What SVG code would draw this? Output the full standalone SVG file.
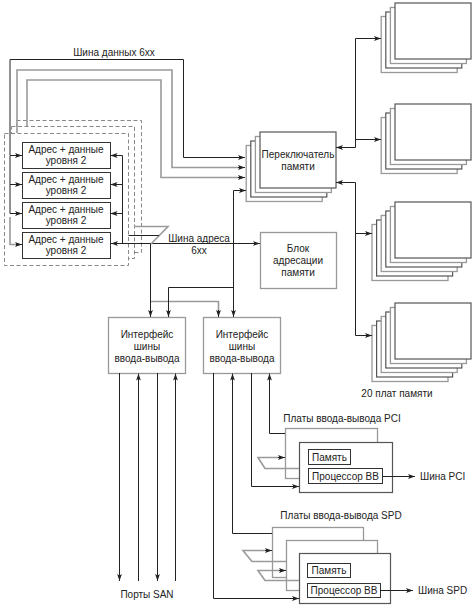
<svg xmlns="http://www.w3.org/2000/svg" width="474" height="608" viewBox="0 0 474 608">
<style>
.t{font-family:"Liberation Sans",Arial,sans-serif;font-size:10px;fill:#222;text-anchor:middle}
.s{text-anchor:start}
.ln{fill:none;stroke:#222;stroke-width:1}
.gl{fill:none;stroke:#9a9a9a;stroke-width:1.6}
.bx{fill:#fff;stroke:#333;stroke-width:1}
.dk{fill:#fff;stroke:#555;stroke-width:1.2}
.gb{fill:#fff;stroke:#999;stroke-width:1.3}
.ds{fill:#fff;stroke:#888;stroke-width:1;stroke-dasharray:4,2.5}
</style>
<defs>
<marker id="a" markerWidth="7" markerHeight="6" refX="7" refY="3" orient="auto" markerUnits="userSpaceOnUse"><path d="M0,0.6 L7,3 L0,5.4 L1.6,3 z" fill="#222"/></marker>
</defs>
<rect width="474" height="608" fill="#fff"/>

<g id="l2stack">
<rect class="ds" x="16.5" y="120.5" width="125" height="132"/>
<rect class="ds" x="11.5" y="126.5" width="123" height="132"/>
<rect class="ds" x="4.5" y="133.5" width="124" height="132"/>
</g>
<g id="l2-1"><rect class="bx" x="22.5" y="142.5" width="88" height="26"/><text class="t" x="66" y="153">Адрес + данные</text><text class="t" x="66" y="164">уровня 2</text></g>
<g id="l2-2"><rect class="bx" x="22.5" y="172.5" width="88" height="26"/><text class="t" x="66" y="183">Адрес + данные</text><text class="t" x="66" y="194">уровня 2</text></g>
<g id="l2-3"><rect class="bx" x="22.5" y="202.5" width="88" height="26"/><text class="t" x="66" y="213">Адрес + данные</text><text class="t" x="66" y="224">уровня 2</text></g>
<g id="l2-4"><rect class="bx" x="22.5" y="232.5" width="88" height="26"/><text class="t" x="66" y="243">Адрес + данные</text><text class="t" x="66" y="254">уровня 2</text></g>

<g id="switch">
<rect class="gb" x="246.2" y="145.5" width="76" height="56"/>
<rect class="dk" x="250.8" y="141" width="76" height="56"/>
<rect class="gb" x="255.4" y="136.5" width="76" height="56"/>
<rect class="dk" x="260" y="132" width="76" height="56"/>
<text class="t" x="298" y="158">Переключатель</text><text class="t" x="298" y="170">памяти</text>
</g>

<g id="addrblock">
<rect class="gb" x="260.5" y="232.5" width="76" height="56"/>
<text class="t" x="298" y="252">Блок</text><text class="t" x="298" y="264">адресации</text><text class="t" x="298" y="276">памяти</text>
</g>

<g id="mem1">
<rect class="gb" x="381.2" y="16.5" width="76" height="56"/>
<rect class="dk" x="385.8" y="12" width="76" height="56"/>
<rect class="gb" x="390.4" y="7.5" width="76" height="56"/>
<rect class="dk" x="395" y="3" width="76" height="56"/>
</g>
<g id="mem2">
<rect class="gb" x="381.2" y="117.5" width="76" height="56"/>
<rect class="dk" x="385.8" y="113" width="76" height="56"/>
<rect class="gb" x="390.4" y="108.5" width="76" height="56"/>
<rect class="dk" x="395" y="104" width="76" height="56"/>
</g>
<g id="mem3">
<rect class="gb" x="372" y="224.5" width="76" height="56"/>
<rect class="dk" x="376.6" y="220" width="76" height="56"/>
<rect class="gb" x="381.2" y="215.5" width="76" height="56"/>
<rect class="dk" x="385.8" y="211" width="76" height="56"/>
<rect class="gb" x="390.4" y="206.5" width="76" height="56"/>
<rect class="dk" x="395" y="202" width="76" height="56"/>
</g>
<g id="mem4">
<rect class="gb" x="372" y="325.5" width="76" height="56"/>
<rect class="dk" x="376.6" y="321" width="76" height="56"/>
<rect class="gb" x="381.2" y="316.5" width="76" height="56"/>
<rect class="dk" x="385.8" y="312" width="76" height="56"/>
<rect class="gb" x="390.4" y="307.5" width="76" height="56"/>
<rect class="dk" x="395" y="303" width="76" height="56"/>
</g>

<g id="io1">
<rect class="gb" x="108.5" y="317.5" width="77" height="56"/>
<text class="t" x="147" y="338">Интерфейс</text><text class="t" x="147" y="350">шины</text><text class="t" x="147" y="362">ввода-вывода</text>
</g>
<g id="io2">
<rect class="gb" x="203.5" y="317.5" width="77" height="56"/>
<text class="t" x="242" y="338">Интерфейс</text><text class="t" x="242" y="350">шины</text><text class="t" x="242" y="362">ввода-вывода</text>
</g>

<g id="pci">
<rect class="gb" x="285.5" y="428.5" width="92" height="50"/>
<rect class="dk" x="299.5" y="442.5" width="93" height="50"/>
<rect class="bx" x="308.5" y="449.5" width="42" height="15"/>
<text class="t" x="329.5" y="460.5">Память</text>
<rect class="bx" x="308.5" y="468.5" width="74" height="15"/>
<text class="t" x="345.5" y="479.5">Процессор ВВ</text>
</g>

<g id="spd">
<rect class="gb" x="272.5" y="527.5" width="91" height="50"/>
<rect class="gb" x="286.5" y="540.5" width="91" height="50"/>
<rect class="dk" x="299.5" y="553.5" width="91" height="50"/>
<rect class="bx" x="307.5" y="563.5" width="43" height="14"/>
<text class="t" x="329" y="574">Память</text>
<rect class="bx" x="307.5" y="583.5" width="73" height="14"/>
<text class="t" x="344" y="594">Процессор ВВ</text>
</g>

<g id="connectors">
<path class="ln" d="M10,155 V59.5 H183.5 V157.5 H245" marker-end="url(#a)"/>
<path class="ln" d="M10,155.5 V213.5"/>
<path class="ln" d="M10,155.5 H22" marker-end="url(#a)"/>
<path class="ln" d="M10,184.5 H22" marker-end="url(#a)"/>
<path class="ln" d="M10,213.5 H22" marker-end="url(#a)"/>
<path class="gl" d="M10,217 V244.5 H17"/>
<path class="ln" d="M16,244.5 H22" marker-end="url(#a)"/>
<path class="gl" d="M17,133 V70 H172 V167.5 H239"/>
<path class="ln" d="M238,167.5 H245" marker-end="url(#a)"/>
<path class="gl" d="M27,126 V80 H161 V177.5 H239"/>
<path class="ln" d="M238,177.5 H245" marker-end="url(#a)"/>

<path class="ln" d="M122.5,155.5 V243.5"/>
<path class="ln" d="M122.5,155.5 H110.5" marker-end="url(#a)"/>
<path class="ln" d="M122.5,184.5 H110.5" marker-end="url(#a)"/>
<path class="ln" d="M122.5,213.5 H110.5" marker-end="url(#a)"/>
<path class="ln" d="M150,243.5 H111" marker-end="url(#a)"/>
<path class="ln" d="M150,243.5 H260" marker-end="url(#a)"/>
<path class="gl" d="M134,226.5 H168 L151,244"/>
<path class="ln" d="M128.5,235.5 H159"/>
<path class="ln" d="M150.5,244 V317" marker-end="url(#a)"/>
<path class="gl" d="M151,301.5 H218.5 V311"/>
<path class="ln" d="M218.5,310 V317" marker-end="url(#a)"/>
<path class="ln" d="M233.5,190.5 H246" marker-end="url(#a)"/>
<path class="ln" d="M233.5,190.5 V317" marker-end="url(#a)"/>
<path class="ln" d="M233.5,287.5 H168.5 V317" marker-end="url(#a)"/>

<path class="ln" d="M355.5,38.5 V147.5 H336" marker-end="url(#a)"/>
<path class="ln" d="M355.5,38.5 H381" marker-end="url(#a)"/>
<path class="ln" d="M355.5,139.5 H381" marker-end="url(#a)"/>
<path class="ln" d="M355.5,335.5 V182.5 H336" marker-end="url(#a)"/>
<path class="ln" d="M355.5,233.5 H372" marker-end="url(#a)"/>
<path class="ln" d="M355.5,335.5 H372" marker-end="url(#a)"/>

<path class="ln" d="M119.5,373 V581" marker-end="url(#a)"/>
<path class="ln" d="M138.5,581 V373.5" marker-end="url(#a)"/>
<path class="ln" d="M157.5,373 V581" marker-end="url(#a)"/>
<path class="ln" d="M175.5,581 V373.5" marker-end="url(#a)"/>

<path class="ln" d="M213.5,373 V598.5 H299" marker-end="url(#a)"/>
<path class="ln" d="M272,533.5 H232.5 V373.5" marker-end="url(#a)"/>
<path class="ln" d="M251.5,373 V486.5 H299" marker-end="url(#a)"/>
<path class="ln" d="M285,433.5 H269.5 V373.5" marker-end="url(#a)"/>

<path class="gl" d="M299,468.5 H265 L258,457.5 H279"/>
<path class="ln" d="M278,457.5 H285" marker-end="url(#a)"/>
<path class="gl" d="M286,561.5 H252 L243,550.5 H266"/>
<path class="ln" d="M265,550.5 H272" marker-end="url(#a)"/>
<path class="gl" d="M299,580.5 H265 L258,570.5 H280"/>
<path class="ln" d="M279,570.5 H286" marker-end="url(#a)"/>

<path class="ln" d="M382.5,476.5 H415" marker-end="url(#a)"/>
<path class="ln" d="M380.5,590.5 H413" marker-end="url(#a)"/>
</g>

<g id="labels">
<text class="t" x="114" y="56">Шина данных 6хх</text>
<text class="t" x="199" y="242">Шина адреса</text>
<text class="t" x="199" y="254">6хх</text>
<text class="t" x="397" y="397">20 плат памяти</text>
<text class="t" x="147" y="598">Порты SAN</text>
<text class="t" x="342" y="422">Платы ввода-вывода PCI</text>
<text class="t" x="341" y="519">Платы ввода-вывода SPD</text>
<text class="t s" x="420" y="480">Шина PCI</text>
<text class="t s" x="418" y="594">Шина SPD</text>
</g>
</svg>
